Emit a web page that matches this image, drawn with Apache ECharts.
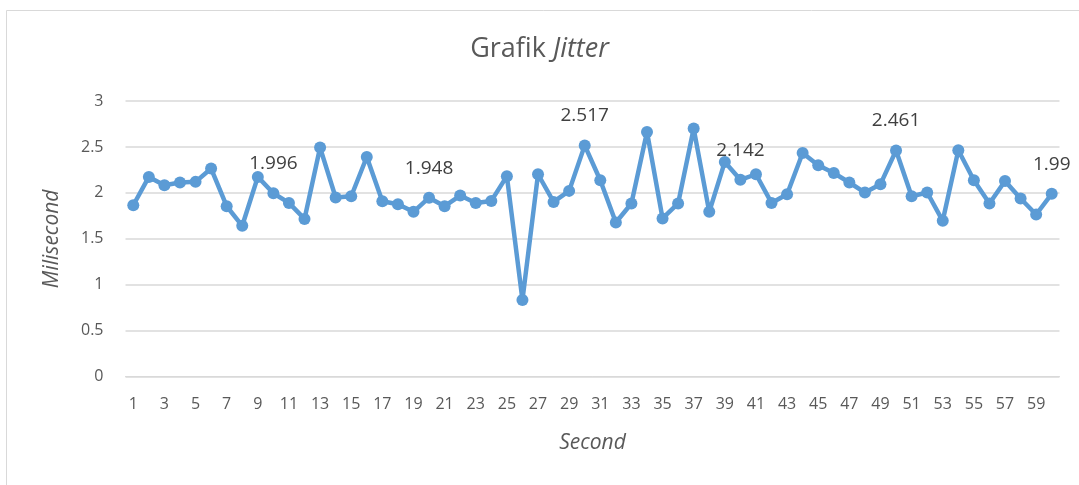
<!DOCTYPE html>
<html>
<head>
<meta charset="utf-8">
<script src="https://cdn.jsdelivr.net/npm/echarts@6/dist/echarts.min.js"></script>
<style>html,body{margin:0;padding:0;background:#fff;}#c{width:1079px;height:485px;}</style>
</head>
<body>
<div id="c"></div>
<script>
const seconds = Array.from({length: 60}, (_, i) => String(i + 1));
const jitter = [
  1.866, 2.174, 2.084, 2.113, 2.12, 2.265, 1.855, 1.642, 2.174, 1.996,
  1.891, 1.717, 2.493, 1.95, 1.964, 2.391, 1.91, 1.877, 1.794, 1.948,
  1.855, 1.971, 1.891, 1.913, 2.182, 0.834, 2.203, 1.902, 2.022, 2.517,
  2.138, 1.678, 1.885, 2.663, 1.722, 1.885, 2.7, 1.794, 2.337, 2.142,
  2.203, 1.891, 1.986, 2.435, 2.301, 2.217, 2.113, 2.004, 2.095, 2.461,
  1.964, 2.004, 1.696, 2.464, 2.138, 1.885, 2.13, 1.939, 1.765, 1.99
];
const labeledIdx = [9, 19, 29, 39, 49, 59];
const yTicks = [0, 0.5, 1, 1.5, 2, 2.5, 3];

const font = "Open Sans, Lato, sans-serif";
const chart = echarts.init(document.getElementById('c'));
chart.setOption({
  animation: false,
  backgroundColor: '#fff',
  graphic: [{
    type: 'rect', left: 4, top: 8,
    shape: {width: 1090, height: 500},
    style: {fill: 'none', stroke: '#D9D9D9', lineWidth: 1}, silent: true
  }],
  title: {
    text: '{n|Grafik }{i|Jitter}',
    left: 'center', top: 31,
    textStyle: {
      fontWeight: 'normal',
      rich: {
        n: {fontSize: 27, color: '#595959', fontFamily: font, fontWeight: 'normal'},
        i: {fontSize: 27, color: '#595959', fontFamily: font, fontStyle: 'italic', fontWeight: 'normal'}
      }
    }
  },
  grid: {left: 125.5, right: 19.5, top: 101, bottom: 108.3, containLabel: false},
  xAxis: {
    type: 'category',
    data: seconds,
    boundaryGap: true,
    name: 'Second',
    nameLocation: 'middle',
    nameGap: 56,
    nameTextStyle: {fontSize: 21, fontStyle: 'italic', color: '#595959', fontFamily: font},
    axisLine: {show: true, lineStyle: {color: '#D9D9D9', width: 1}},
    axisTick: {show: false},
    axisLabel: {interval: 1, fontSize: 16, color: '#595959', fontFamily: font, margin: 20}
  },
  yAxis: {
    type: 'value',
    min: 0, max: 3, interval: 0.5,
    name: 'Milisecond',
    nameLocation: 'middle',
    nameGap: 63,
    nameTextStyle: {fontSize: 21, fontStyle: 'italic', color: '#595959', fontFamily: font},
    axisLine: {show: false},
    axisTick: {show: false},
    splitLine: {lineStyle: {color: '#D9D9D9', width: 1.5}},
    axisLabel: {fontSize: 16, color: '#595959', fontFamily: font, margin: 22,
      formatter: v => yTicks.includes(v) ? String(v) : ''}
  },
  series: [{
    type: 'line',
    data: jitter.map((v, i) => ({
      value: v,
      label: {show: labeledIdx.includes(i)}
    })),
    showSymbol: true,
    showAllSymbol: true,
    lineStyle: {color: '#5B9BD5', width: 4.5},
    itemStyle: {color: '#5B9BD5'},
    symbol: 'circle',
    symbolSize: 12,
    labelLayout: {hideOverlap: false},
    label: {position: 'top', distance: 14, fontSize: 19, color: '#404040', fontFamily: font,
      formatter: p => String(p.value)}
  }]
});
</script>
</body>
</html>
